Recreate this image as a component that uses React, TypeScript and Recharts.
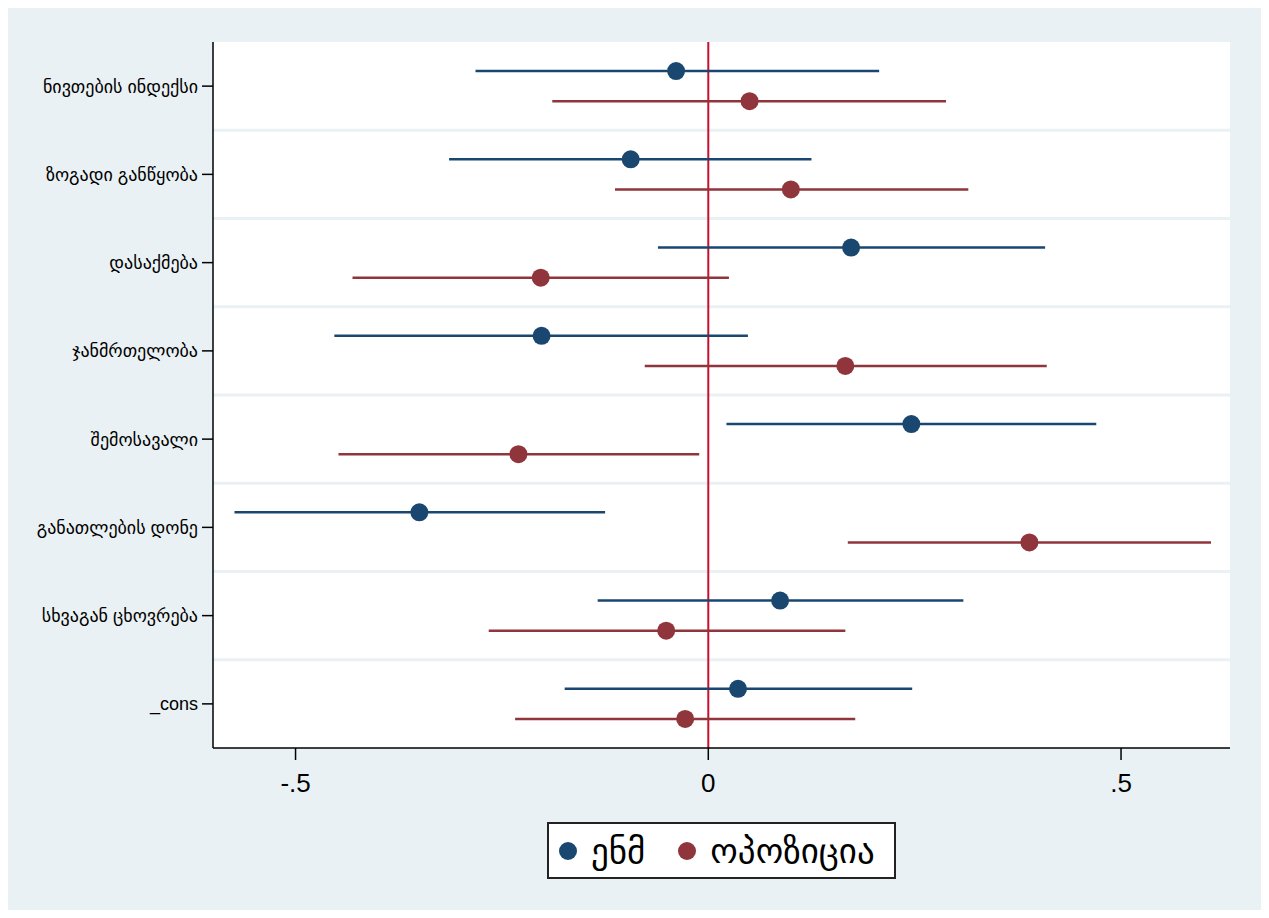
import React from "react";
import {
  ScatterChart,
  Scatter,
  XAxis,
  YAxis,
  ErrorBar,
  ReferenceLine,
  CartesianGrid,
} from "recharts";

// coefficient plot, two models
const categories = [
  "ნივთების ინდექსი",
  "ზოგადი განწყობა",
  "დასაქმება",
  "ჯანმრთელობა",
  "შემოსავალი",
  "განათლების დონე",
  "სხვაგან ცხოვრება",
  "_cons",
];

const enmCoef = [-0.039, -0.094, 0.173, -0.202, 0.246, -0.35, 0.087, 0.036];
const enmLow = [-0.282, -0.314, -0.061, -0.453, 0.022, -0.574, -0.134, -0.174];
const enmHigh = [0.207, 0.125, 0.408, 0.048, 0.47, -0.125, 0.309, 0.247];

const oppCoef = [0.05, 0.1, -0.203, 0.166, -0.23, 0.389, -0.051, -0.028];
const oppLow = [-0.189, -0.113, -0.431, -0.077, -0.448, 0.169, -0.266, -0.234];
const oppHigh = [0.288, 0.315, 0.025, 0.41, -0.011, 0.609, 0.166, 0.178];

const xTicks = [-0.5, 0, 0.5];
const seriesNames = ["ენმ", "ოპოზიცია"];

const BLUE = "#1a476f";
const RED = "#90353b";
const BG = "#eaf1f4";
const FONT = "'Liberation Sans', 'DejaVu Sans', sans-serif";

const toRows = (coef: number[], low: number[], high: number[], offset: number) =>
  coef.map((c, i) => ({
    y: i + 1 + offset,
    x: c,
    err: [c - low[i], high[i] - c],
  }));

const enmData = toRows(enmCoef, enmLow, enmHigh, -0.17);
const oppData = toRows(oppCoef, oppLow, oppHigh, 0.17);

const dot = (color: string) => (props: any) =>
  <circle cx={props.cx} cy={props.cy} r={9} fill={color} />;

const fmt = (v: number) => String(v).replace("0.", ".");

function LegendBox() {
  return (
    <div
      style={{
        position: "absolute",
        left: 539,
        top: 814,
        width: 345,
        height: 53,
        background: "#fff",
        border: "2px solid #222",
        display: "flex",
        alignItems: "center",
        fontFamily: FONT,
        fontSize: 35,
        color: "#000",
      }}
    >
      {seriesNames.map((n, i) => (
        <div key={n} style={{ display: "flex", alignItems: "center", marginLeft: i === 0 ? 10 : 33 }}>
          <span
            style={{
              width: 18,
              height: 18,
              borderRadius: 9,
              background: i === 0 ? BLUE : RED,
              display: "inline-block",
              marginRight: 14,
            }}
          />
          <span>{n}</span>
        </div>
      ))}
    </div>
  );
}

export default function App() {
  return (
    <div style={{ position: "relative", width: 1253, height: 902, background: BG }}>
      <ScatterChart
        width={1253}
        height={902}
        margin={{ top: 34, right: 31, bottom: 112, left: 0 }}
      >
        <CartesianGrid horizontal={false} vertical={false} fill="#fff" />
        <XAxis
          dataKey="x"
          type="number"
          domain={[-0.6, 0.632]}
          allowDataOverflow
          ticks={xTicks}
          tickFormatter={fmt}
          height={50}
          axisLine={{ stroke: "#000", strokeWidth: 1.5 }}
          tickLine={{ stroke: "#000", strokeWidth: 1.5 }}
          tickSize={12}
          tickMargin={14}
          tick={{ fontSize: 26, fill: "#000", fontFamily: FONT }}
        />
        <YAxis
          dataKey="y"
          type="number"
          domain={[0.5, 8.5]}
          allowDataOverflow
          reversed
          ticks={categories.map((_, i) => i + 1)}
          interval={0}
          tickFormatter={(v: number) => categories[v - 1] ?? ""}
          width={205}
          axisLine={{ stroke: "#000", strokeWidth: 1.5 }}
          tickLine={{ stroke: "#000", strokeWidth: 1.5 }}
          tickSize={11}
          tickMargin={4}
          tick={{ fontSize: 18, fill: "#000", fontFamily: FONT }}
        />
        {categories.slice(1).map((_, i) => (
          <ReferenceLine key={i} y={i + 1.5} stroke={BG} strokeWidth={3} />
        ))}
        <ReferenceLine x={0} stroke="#c8102e" strokeWidth={2} />
        <Scatter name={seriesNames[0]} data={enmData} fill={BLUE} shape={dot(BLUE)} isAnimationActive={false}>
          <ErrorBar dataKey="err" direction="x" width={0} stroke={BLUE} strokeWidth={2.5} />
        </Scatter>
        <Scatter name={seriesNames[1]} data={oppData} fill={RED} shape={dot(RED)} isAnimationActive={false}>
          <ErrorBar dataKey="err" direction="x" width={0} stroke={RED} strokeWidth={2.5} />
        </Scatter>
      </ScatterChart>
      <LegendBox />
    </div>
  );
}
